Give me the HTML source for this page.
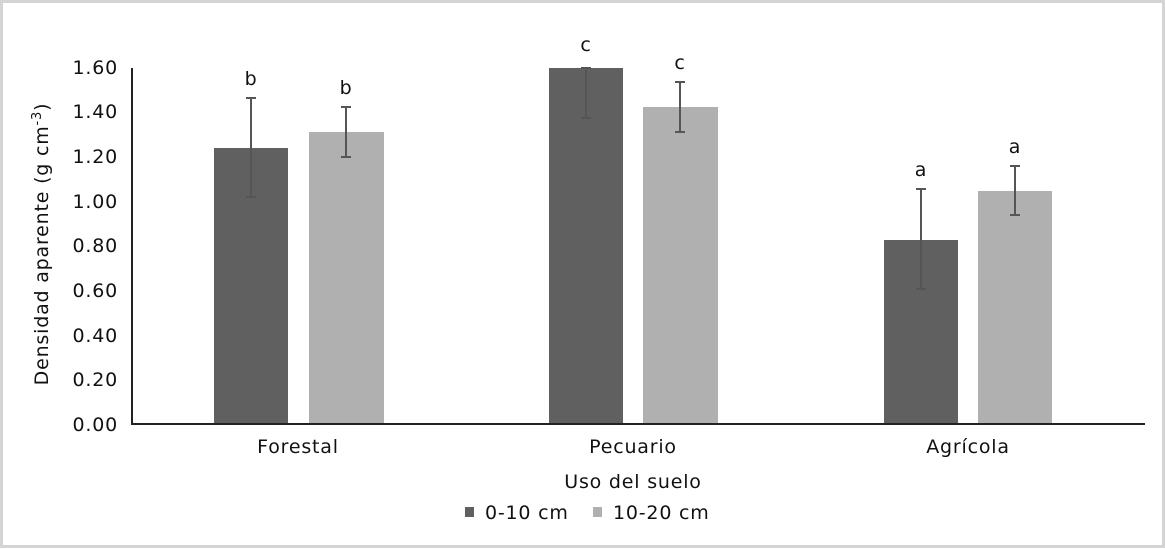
<!DOCTYPE html>
<html><head><meta charset="utf-8"><style>
html,body{margin:0;padding:0;background:#fff;}
svg{display:block;}
text{font-family:"DejaVu Sans","Liberation Sans",sans-serif;fill:#111;letter-spacing:0.8px;}
</style></head><body>
<svg width="1165" height="549" viewBox="0 0 1165 549" xmlns="http://www.w3.org/2000/svg">
<rect x="1.5" y="1.5" width="1162" height="545" fill="#fff" stroke="#d4d4d4" stroke-width="3"/>
<g font-size="19" text-anchor="end">
<text x="118" y="431">0.00</text>
<text x="118" y="386">0.20</text>
<text x="118" y="342">0.40</text>
<text x="118" y="297">0.60</text>
<text x="118" y="252">0.80</text>
<text x="118" y="208">1.00</text>
<text x="118" y="163">1.20</text>
<text x="118" y="118">1.40</text>
<text x="118" y="74">1.60</text>
</g>
<text transform="translate(48,244) rotate(-90)" font-size="19" text-anchor="middle">Densidad aparente (g cm<tspan font-size="13" dy="-7">-3</tspan><tspan dy="7">)</tspan></text>
<rect x="214" y="148" width="74" height="276" fill="#606060"/>
<rect x="309" y="132" width="75" height="292" fill="#b0b0b0"/>
<rect x="549" y="68" width="74" height="356" fill="#606060"/>
<rect x="643" y="107" width="75" height="317" fill="#b0b0b0"/>
<rect x="884" y="240" width="74" height="184" fill="#606060"/>
<rect x="978" y="191" width="74" height="233" fill="#b0b0b0"/>
<line x1="132" y1="68" x2="132" y2="425" stroke="#222" stroke-width="2"/>
<line x1="131" y1="424" x2="1145" y2="424" stroke="#222" stroke-width="2"/>
<g stroke="#555" stroke-width="2">
<line x1="251" y1="98" x2="251" y2="197"/><line x1="246" y1="98" x2="256" y2="98"/><line x1="246" y1="197" x2="256" y2="197"/>
<line x1="346" y1="107" x2="346" y2="157"/><line x1="341" y1="107" x2="351" y2="107"/><line x1="341" y1="157" x2="351" y2="157"/>
<line x1="586" y1="68" x2="586" y2="118"/><line x1="581" y1="68" x2="591" y2="68"/><line x1="581" y1="118" x2="591" y2="118"/>
<line x1="680" y1="82" x2="680" y2="132"/><line x1="675" y1="82" x2="685" y2="82"/><line x1="675" y1="132" x2="685" y2="132"/>
<line x1="921" y1="189" x2="921" y2="289"/><line x1="916" y1="189" x2="926" y2="189"/><line x1="916" y1="289" x2="926" y2="289"/>
<line x1="1015" y1="166" x2="1015" y2="215"/><line x1="1010" y1="166" x2="1020" y2="166"/><line x1="1010" y1="215" x2="1020" y2="215"/>
</g>
<g font-size="19" text-anchor="middle">
<text x="251" y="85">b</text>
<text x="346" y="94">b</text>
<text x="586" y="51">c</text>
<text x="680" y="69">c</text>
<text x="921" y="176">a</text>
<text x="1015" y="153">a</text>
</g>
<g font-size="19" text-anchor="middle">
<text x="298" y="453">Forestal</text>
<text x="633" y="453">Pecuario</text>
<text x="968" y="453">Agrícola</text>
<text x="633" y="488">Uso del suelo</text>
</g>
<rect x="465" y="507" width="9" height="10" fill="#606060"/>
<text x="485" y="519" font-size="19">0-10 cm</text>
<rect x="593" y="507" width="9" height="10" fill="#b0b0b0"/>
<text x="613" y="519" font-size="19">10-20 cm</text>
</svg>
</body></html>
